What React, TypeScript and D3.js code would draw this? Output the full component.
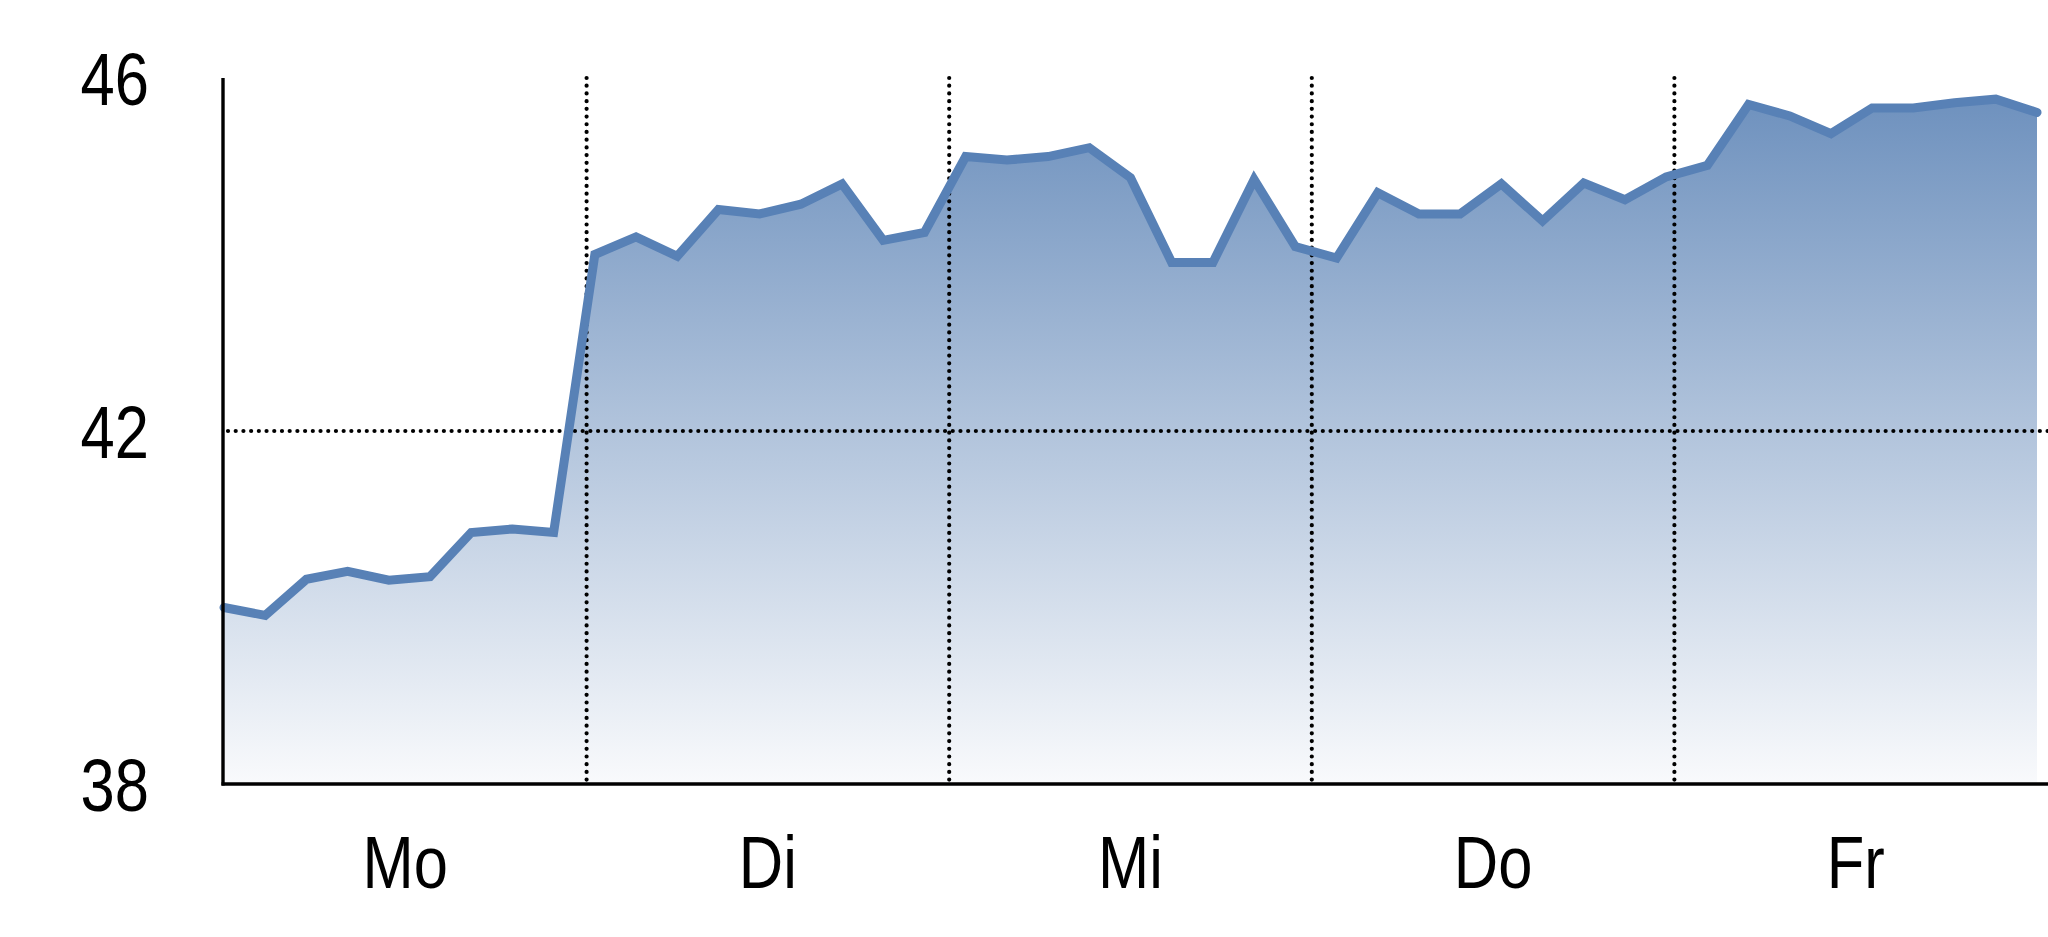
import React from "react";
import * as d3 from "d3";

const days: string[] = ["Mo", "Di", "Mi", "Do", "Fr"];
const yTicks: number[] = [38, 42, 46];
const values: number[] = [
  40.0, 39.91, 40.32, 40.41, 40.31, 40.35, 40.85, 40.89, 40.85,
  44.0, 44.2, 43.98, 44.51, 44.46, 44.57, 44.8, 44.16, 44.25,
  45.11, 45.07, 45.11, 45.21, 44.87, 43.91, 43.91, 44.85, 44.09,
  43.96, 44.7, 44.46, 44.46, 44.8, 44.38, 44.81, 44.62, 44.88,
  45.01, 45.7, 45.57, 45.37, 45.66, 45.66, 45.72, 45.76, 45.61,
];

const W = 2048;
const H = 937;
const FONT = "'Liberation Sans', Arial, sans-serif";
const NARROW = 0.82;

export default function App() {
  const x = d3.scaleLinear().domain([0, days.length]).range([224, 2037]);
  const y = d3.scaleLinear().domain([38, 46]).range([784, 78]);
  const n = values.length;
  const pos = (i: number) => x((i * days.length) / (n - 1));

  const line = d3
    .line<number>()
    .x((_, i) => pos(i))
    .y((d) => y(d));
  const area = d3
    .area<number>()
    .x((_, i) => pos(i))
    .y0(y(38))
    .y1((d) => y(d));

  const dot = { stroke: "#000", strokeWidth: 4.2, strokeDasharray: "0.01 7.7", strokeLinecap: "round" as const };

  return (
    <svg width={W} height={H} style={{ position: "absolute", left: 0, top: 0, background: "#fff" }}>
      <defs>
        <linearGradient id="fillGrad" gradientUnits="userSpaceOnUse" x1="0" y1={y(46)} x2="0" y2={y(38)}>
          <stop offset="0" stopColor="#6a8ebc" />
          <stop offset="1" stopColor="#f9fafc" />
        </linearGradient>
      </defs>
      <path d={area(values) || ""} fill="url(#fillGrad)" />
      <line x1={x(0) + 4} x2={W} y1={y(42)} y2={y(42)} {...dot} />
      {days.slice(1).map((_, k) => (
        <line key={k} x1={x(k + 1)} x2={x(k + 1)} y1={y(46)} y2={y(38)} {...dot} />
      ))}
      <path
        d={line(values) || ""}
        fill="none"
        stroke="#5881b6"
        strokeWidth={9}
        strokeLinejoin="miter"
        strokeLinecap="round"
      />
      <line x1={223} x2={223} y1={y(46)} y2={y(38) + 1.5} stroke="#000" strokeWidth={3.4} />
      <line x1={221.5} x2={W} y1={y(38)} y2={y(38)} stroke="#000" strokeWidth={3.4} />
      {yTicks.map((t) => (
        <text
          key={t}
          transform={`translate(149,${y(t) + 27}) scale(${NARROW},1)`}
          textAnchor="end"
          fontFamily={FONT}
          fontSize={75}
          fill="#000"
        >
          {t}
        </text>
      ))}
      {days.map((d, k) => (
        <text
          key={d}
          transform={`translate(${x(k + 0.5)},888) scale(${NARROW},1)`}
          textAnchor="middle"
          fontFamily={FONT}
          fontSize={75}
          fill="#000"
        >
          {d}
        </text>
      ))}
    </svg>
  );
}
